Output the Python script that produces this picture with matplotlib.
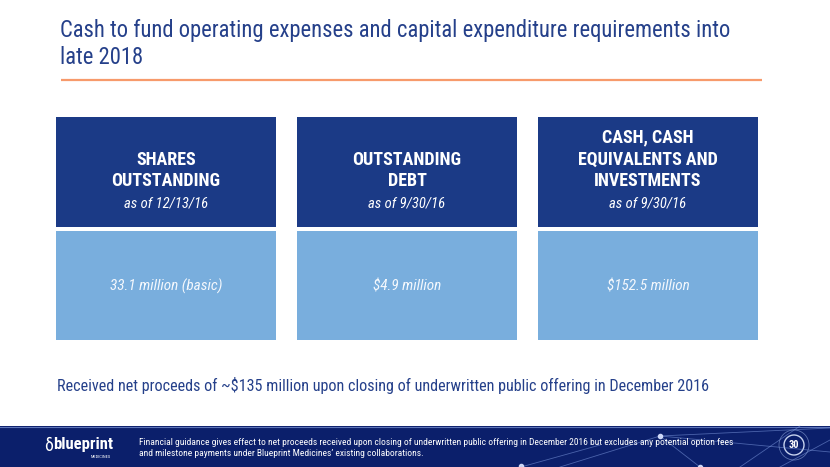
import matplotlib.pyplot as plt
from matplotlib import font_manager as fm
from matplotlib.patches import Rectangle, Circle

# slide content
headers = ["SHARES\nOUTSTANDING", "OUTSTANDING\nDEBT", "CASH, CASH\nEQUIVALENTS AND\nINVESTMENTS"]
as_of = ["as of 12/13/16", "as of 9/30/16", "as of 9/30/16"]
values = ["33.1 million (basic)", "$4.9 million", "$152.5 million"]

title = "Cash to fund operating expenses and capital expenditure requirements into\nlate 2018"
note = "Received net proceeds of ~$135 million upon closing of underwritten public offering in December 2016"
footer = ("Financial guidance gives effect to net proceeds received upon closing of underwritten public offering in December 2016 but excludes any potential option fees\n"
          "and milestone payments under Blueprint Medicines\u2019 existing collaborations.")
page_no = "30"

DARK = "#1b3a86"
LIGHT = "#79aedd"
NAVY = "#0b1f6b"
TITLE_C = "#25408a"

# pick a narrow face if one is there, else shrink a normal one
names = {f.name for f in fm.fontManager.ttflist}
k = 0.82
FONT = "Liberation Sans"
for cand in ["Liberation Sans Narrow", "Arial Narrow", "Roboto Condensed"]:
    if cand in names:
        FONT, k = cand, 1.0
        break
plt.rcParams['font.family'] = [FONT, "DejaVu Sans"]

fig = plt.figure(figsize=(8.3, 4.67), dpi=100)
ax = fig.add_axes([0, 0, 1, 1])
ax.set_xlim(0, 830)
ax.set_ylim(467, 0)
ax.axis('off')

tlines = title.split("\n")
for j, ln in enumerate(tlines):
    ax.text(60, 31 + 27 * j, ln, fontsize=16.3 * k, color=TITLE_C, va='center', ha='left')
ax.plot([61, 762], [80, 80], color="#f79a6b", lw=1.6, solid_capstyle='butt')

x0 = [56, 297, 538]
w = 220
for i in range(len(headers)):
    ax.add_patch(Rectangle((x0[i], 117), w, 110, color=DARK, lw=0))
    ax.add_patch(Rectangle((x0[i], 231), w, 109, color=LIGHT, lw=0))
    cx = x0[i] + w / 2
    date_y = 203
    hl = headers[i].split("\n")
    for j, ln in enumerate(reversed(hl)):
        ax.text(cx, date_y - 21.7 * (j + 1), ln, fontsize=13 * k, fontweight='bold',
                color='white', ha='center', va='center')
    ax.text(cx, date_y, as_of[i], fontsize=10.5 * k, style='italic', color='white',
            ha='center', va='center')
    ax.text(cx, 286, values[i], fontsize=11 * k, style='italic', color='#f4f8fd',
            ha='center', va='center')

ax.text(57, 385, note, fontsize=11.65 * k, color=TITLE_C, ha='left', va='center')

# footer band
ax.add_patch(Rectangle((0, 426), 830, 41, color=NAVY, lw=0))
ax.plot([0, 830], [426.5, 426.5], color="#5d74b8", lw=0.8)
net = [(660, 436, 830, 428), (660, 436, 700, 467), (660, 436, 560, 467), (740, 467, 800, 426),
       (780, 467, 830, 440), (660, 436, 830, 452), (521, 467, 600, 445)]
for (xa, ya, xb, yb) in net:
    ax.plot([xa, xb], [ya, yb], color="#7f9be0", lw=0.6, alpha=0.55)
for (nx, ny) in [(660, 436), (521, 466), (700, 467)]:
    ax.plot(nx, ny, 'o', ms=3, color="#d8e2ff", alpha=0.9)
ax.add_patch(Circle((794, 445), 10, fill=False, ec="#c7d3ee", lw=1.0))
ax.add_patch(Circle((794, 445), 15, fill=False, ec="#8fa6da", lw=0.6, alpha=0.6))
ax.text(794, 445, page_no, fontsize=7.5, color='white', ha='center', va='center', fontweight='bold')

# logo
ax.text(44, 446, "\u03b4", fontsize=13, color='white', ha='left', va='center')
ax.text(53, 445, "blueprint", fontsize=12 * k, fontweight='bold', color='white', ha='left', va='center')
ax.text(91, 457, "MEDICINES", fontsize=3.2, color='white', ha='left', va='center')

flines = footer.split("\n")
for j, ln in enumerate(flines):
    ax.text(139, 442.5 + 11 * j, ln, fontsize=6.8 * k, color='white', ha='left', va='center')

fig.savefig("out.png", dpi=100)
